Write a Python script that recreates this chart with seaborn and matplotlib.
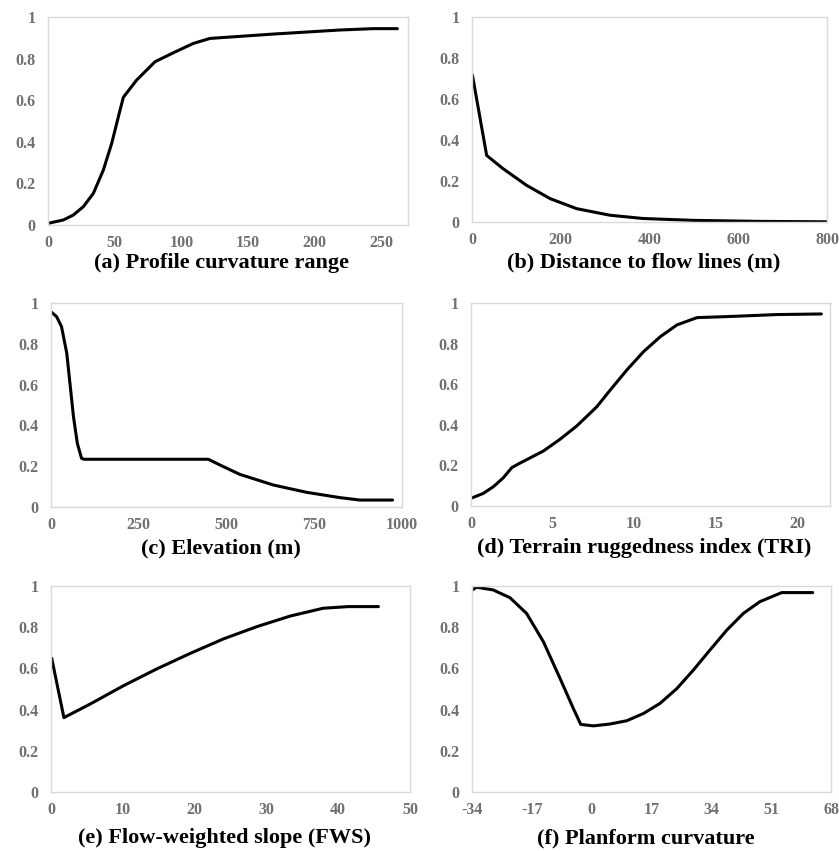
import matplotlib
matplotlib.use("Agg")
import matplotlib.pyplot as plt
import seaborn as sns
import pandas as pd

# (a) Profile curvature range
a_x = [0, 11.5, 19, 26.5, 34, 41.5, 47.8, 52.8, 56.5, 66.5, 80.3, 94, 109, 121.5, 169, 219, 244, 262]
a_y = [0.008, 0.024, 0.048, 0.088, 0.152, 0.264, 0.393, 0.521, 0.614, 0.697, 0.785, 0.828, 0.873, 0.897, 0.918, 0.9375, 0.944, 0.944]

# (b) Distance to flow lines (m)
b_x = [1, 33, 70, 123, 176, 236, 311, 386, 499, 649, 800]
b_y = [0.716, 0.325, 0.26, 0.179, 0.114, 0.065, 0.033, 0.017, 0.008, 0.003, 0.001]

# (c) Elevation (m)
c_x = [0, 16, 30, 45, 54, 64, 75, 87, 94, 448, 491, 538, 633, 728, 823, 880, 973]
c_y = [0.957, 0.933, 0.884, 0.753, 0.606, 0.443, 0.312, 0.239, 0.234, 0.234, 0.198, 0.16, 0.108, 0.072, 0.046, 0.034, 0.034]

# (d) Terrain ruggedness index (TRI)
d_x = [0, 0.75, 1.37, 1.98, 2.5, 2.9, 4.44, 5.46, 6.48, 7.71, 8.53, 9.55, 10.57, 11.6, 12.62, 13.85, 15.69, 18.75, 21.47]
d_y = [0.038, 0.062, 0.095, 0.139, 0.189, 0.207, 0.271, 0.329, 0.394, 0.489, 0.571, 0.67, 0.76, 0.834, 0.892, 0.928, 0.933, 0.943, 0.946]

# (e) Flow-weighted slope (FWS)
e_x = [0.1, 1.8, 5.4, 10.1, 14.7, 19.4, 24.0, 28.7, 33.3, 37.9, 41.4, 45.6]
e_y = [0.649, 0.361, 0.426, 0.516, 0.597, 0.673, 0.743, 0.803, 0.854, 0.892, 0.9, 0.9]

# (f) Planform curvature
f_x = [-34, -32.7, -28, -23.2, -18.5, -13.7, -9, -5.2, -3.1, 0.5, 5.2, 10, 14.7, 19.4, 24.2, 28.9, 33.6, 38.4, 43.1, 47.8, 54, 62.8]
f_y = [0.98, 0.994, 0.981, 0.943, 0.867, 0.729, 0.552, 0.405, 0.328, 0.321, 0.33, 0.346, 0.381, 0.43, 0.502, 0.592, 0.689, 0.786, 0.867, 0.924, 0.968, 0.968]

titles = ["(a) Profile curvature range", "(b) Distance to flow lines (m)",
          "(c) Elevation (m)", "(d) Terrain ruggedness index (TRI)",
          "(e) Flow-weighted slope (FWS)", "(f) Planform curvature"]
x_ticks = [[0, 50, 100, 150, 200, 250], [0, 200, 400, 600, 800],
           [0, 250, 500, 750, 1000], [0, 5, 10, 15, 20],
           [0, 10, 20, 30, 40, 50], [-34, -17, 0, 17, 34, 51, 68]]
x_lims = [(0, 270), (0, 800), (0, 1000), (0, 22), (0, 50), (-34, 68)]
y_ticks = [0, 0.2, 0.4, 0.6, 0.8, 1]
y_labels = ["0", "0.2", "0.4", "0.6", "0.8", "1"]

sns.set_theme(style="white")
plt.rcParams['font.family'] = ['Liberation Serif', 'DejaVu Serif']
plt.rcParams['axes.unicode_minus'] = False

W, H = 839, 851
fig = plt.figure(figsize=(W / 100, H / 100), dpi=100)

# pixel boxes: left, right, top, bottom
boxes = [(48, 408, 17, 225), (472, 827, 17, 222),
         (51, 402, 303, 507), (471, 830, 303, 506),
         (51, 410, 586, 792), (472, 831, 586, 792)]
title_y = [263, 262, 548, 548, 838, 838]

series = [(a_x, a_y), (b_x, b_y), (c_x, c_y), (d_x, d_y), (e_x, e_y), (f_x, f_y)]

for i, (xs, ys) in enumerate(series):
    l, r, t, b = boxes[i]
    ax = fig.add_axes([l / W, 1 - b / H, (r - l) / W, (b - t) / H])
    df = pd.DataFrame({'x': xs, 'y': ys})
    sns.lineplot(data=df, x='x', y='y', ax=ax, color='black', linewidth=2.2)
    ax.set_xlim(*x_lims[i])
    ax.set_ylim(0, 1)
    ax.set_xticks(x_ticks[i])
    ax.set_xticklabels([str(v) for v in x_ticks[i]])
    ax.set_yticks(y_ticks)
    ax.set_yticklabels(y_labels)
    ax.set_xlabel('')
    ax.set_ylabel('')
    for lab in ax.get_xticklabels() + ax.get_yticklabels():
        lab.set_fontweight('bold')
        lab.set_fontsize(11.5)
        lab.set_color('#707070')
    ax.tick_params(axis='x', length=0, pad=7)
    ax.tick_params(axis='y', length=0, pad=9)
    for sp in ax.spines.values():
        sp.set_color('#d9d9d9')
        sp.set_linewidth(1.0)
    fig.text(((l + r) / 2 - 6) / W, 1 - title_y[i] / H, titles[i],
             ha='center', va='center', fontsize=16, fontweight='bold',
             color='black')

fig.savefig('out.png', dpi=100)
